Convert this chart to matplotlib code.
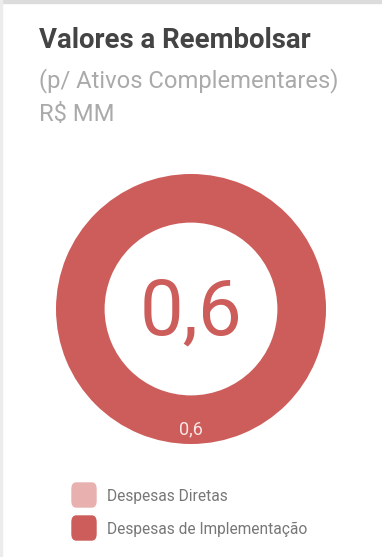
import matplotlib
matplotlib.use('Agg')
import numpy as np
import matplotlib.pyplot as plt
from matplotlib.patches import FancyBboxPatch, Rectangle

plt.rcParams['font.family'] = ['Roboto', 'DejaVu Sans']

# dados do grafico
categorias = ['Despesas Diretas', 'Despesas de Implementação']
valores = [0.0, 0.6]
cores = ['#e8b0ae', '#cd5d5a']
total = sum(valores)

W, H = 382, 557
fig = plt.figure(figsize=(W / 100, H / 100), dpi=100)
fig.patch.set_facecolor('white')

# borda do cartao
fig.patches.append(Rectangle((0, 1 - 3 / H), 1, 3 / H, transform=fig.transFigure,
                             color='#dcdcdc', zorder=0))
fig.patches.append(Rectangle((0, 0), 1.5 / W, 1, transform=fig.transFigure,
                             color='#ececec', zorder=0))

fig.text(39 / W, 1 - 48 / H, 'Valores a Reembolsar', fontsize=19.8, fontweight='bold',
         color='#444444', va='baseline', ha='left')
fig.text(39 / W, 1 - 87 / H, '(p/ Ativos Complementares)', fontsize=17.1,
         color='#aaaaaa', va='baseline', ha='left')
fig.text(39 / W, 1 - 121 / H, 'R$ MM', fontsize=17.1,
         color='#aaaaaa', va='baseline', ha='left')

# rosca
cx, cy, r = 191, 309, 135
lim = 1.05
size = 2 * lim * r
ax = fig.add_axes([(cx - size / 2) / W, (H - cy - size / 2) / H, size / W, size / H])
ax.pie(valores, colors=cores, startangle=90, counterclock=False, radius=1.0,
       wedgeprops=dict(width=0.36, edgecolor='none'))
ax.set_xlim(-lim, lim)
ax.set_ylim(-lim, lim)
ax.set_aspect('equal')
ax.axis('off')

# rotulos das fatias
angulo = 90
for v in valores:
    if v <= 0:
        continue
    meio = angulo - 360 * v / total / 2
    angulo -= 360 * v / total
    t = np.deg2rad(meio)
    ax.text(0.89 * np.cos(t), 0.89 * np.sin(t), f'{v:.1f}'.replace('.', ','),
            ha='center', va='center', fontsize=13, color='#f8e6e6')

ax.text(0, -0.03, f'{total:.1f}'.replace('.', ','), ha='center', va='center',
        fontsize=56, color=cores[1])

# legenda
for i, (nome, cor) in enumerate(zip(categorias, cores)):
    y = 495 + i * 33
    fig.patches.append(FancyBboxPatch((72 / W, (H - y - 12) / H), 24 / W, 24 / H,
                                      boxstyle='round,pad=0,rounding_size=0.011',
                                      transform=fig.transFigure, color=cor))
    fig.text(107 / W, 1 - (y + 6) / H, nome, fontsize=11.2, color='#777777',
             va='baseline', ha='left')

fig.savefig('out.png', dpi=100, facecolor='white')
